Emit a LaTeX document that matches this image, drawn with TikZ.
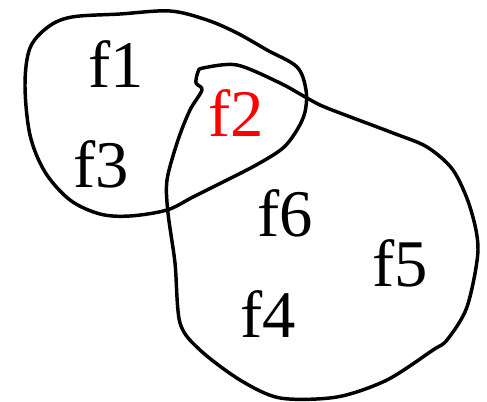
\documentclass[tikz,border=0pt]{standalone}
\usepackage{fontspec}
\setmainfont{Liberation Serif}
\usepackage{tikz}

\begin{document}
\begin{tikzpicture}[x=0.75pt,y=-0.75pt,line cap=round,line join=round,
  blob/.style={draw=black,line width=2.6pt},
  lbl/.style={font=\fontsize{50}{54}\selectfont,inner sep=0pt}]
\useasboundingbox (0,0) rectangle (487,402);
% left set
\draw[blob] plot[smooth cycle,tension=0.55] coordinates {
  (48,27) (72,17) (120,14) (170,11) (207,20) (237,33) (267,50) (297,67)
  (306,90) (305,112) (297,130) (283,148) (258,164) (227,180) (193,197)
  (167,210) (130,216) (100,214) (70,200) (45,172) (30,135) (25,85) (30,48)};
% right set
\draw[blob] plot[smooth cycle,tension=0.5] coordinates {
  (203,68) (237,65) (280,83) (307,98) (327,108) (393,133) (427,147)
  (453,170) (470,207) (478,250) (467,307) (447,340) (433,350) (387,380)
  (337,397) (280,398) (240,380) (200,350) (180,323) (175,263) (168,213)
  (167,180) (178,140) (190,110) (202,90) (196,83) (198,72)};
% elements
\node[lbl] (f1) at (116,64) {f1};
\node[lbl,text=red] (f2) at (236,113) {f2};
\node[lbl] (f3) at (101,164) {f3};
\node[lbl] (f6) at (285,213) {f6};
\node[lbl] (f5) at (400,263) {f5};
\node[lbl] (f4) at (268,314) {f4};
\end{tikzpicture}
\end{document}
